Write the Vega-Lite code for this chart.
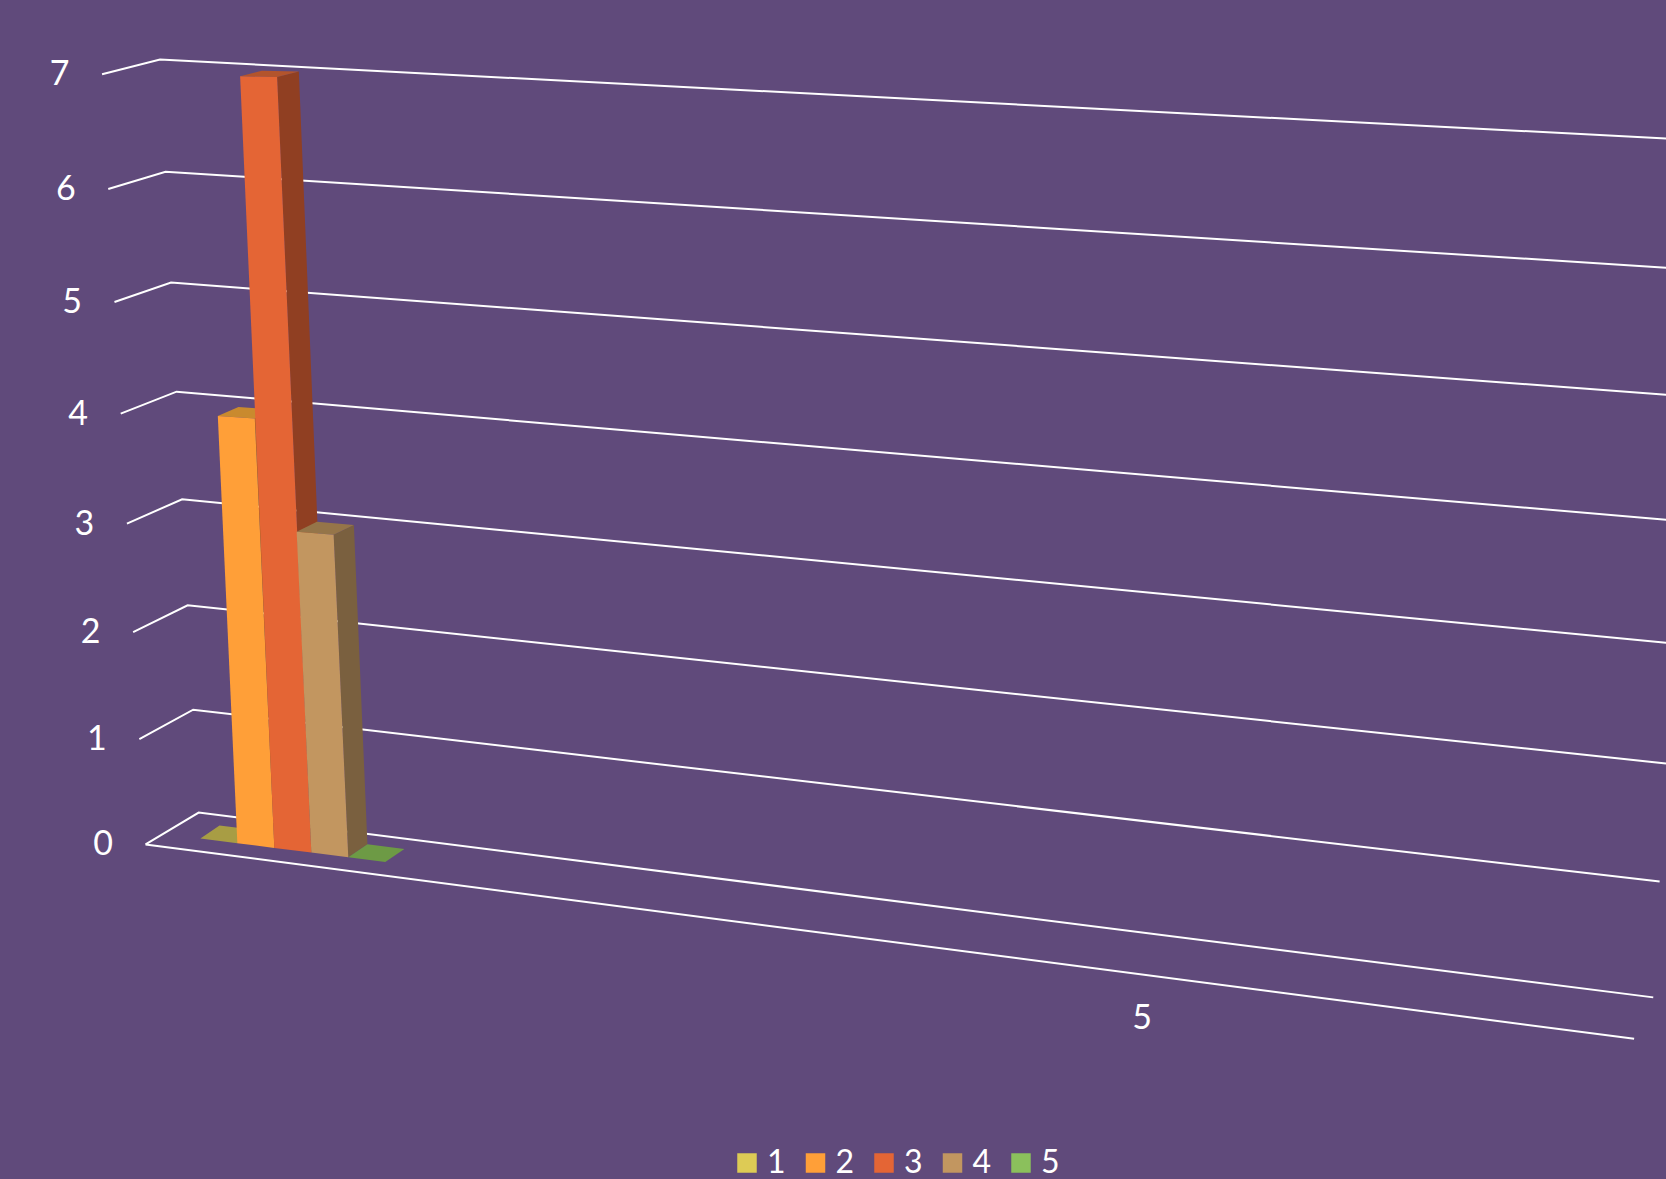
{"$schema":"https://vega.github.io/schema/vega-lite/v6.json","width":1666,"height":1179,"autosize":{"type":"fit","contains":"padding"},"padding":0,"background":"#604A7B","view":{"stroke":null},"config":{"view":{"stroke":null},"font":"Lato"},"datasets":{"levels":[{"level":0},{"level":1},{"level":2},{"level":3},{"level":4},{"level":5},{"level":6},{"level":7}],"bars":[{"series":"1","value":0},{"series":"2","value":4},{"series":"3","value":7},{"series":"4","value":3},{"series":"5","value":0}],"cats":[{"category":"5"}]},"layer":[{"data":{"name":"levels"},"transform":[{"calculate":"[0,1,2]","as":"vertex"},{"flatten":["vertex"]},{"calculate":"datum.vertex==0?137-5.85*datum.level:datum.vertex==1?187-5.2*datum.level:1556+6*datum.level","as":"sx"},{"calculate":"datum.vertex==0?795-98.5*datum.level-0.726*datum.level*datum.level:datum.vertex==1?765-96.1*datum.level-0.74*datum.level*datum.level:939-108*datum.level-1.04*datum.level*datum.level","as":"sy"}],"mark":{"type":"line","stroke":"#FFFFFF","strokeWidth":2,"clip":true},"encoding":{"x":{"field":"sx","type":"quantitative","scale":{"domain":[0,1568],"nice":false,"zero":false},"axis":null},"y":{"field":"sy","type":"quantitative","scale":{"domain":[0,1110],"nice":false,"zero":false,"reverse":true},"axis":null},"detail":{"field":"level"},"order":{"field":"vertex"}}},{"data":{"name":"levels"},"transform":[{"filter":"datum.level==0"},{"calculate":"[0,1]","as":"vertex"},{"flatten":["vertex"]},{"calculate":"datum.vertex==0?137:1538","as":"sx"},{"calculate":"datum.vertex==0?795:978","as":"sy"}],"mark":{"type":"line","stroke":"#FFFFFF","strokeWidth":2},"encoding":{"x":{"field":"sx","type":"quantitative","axis":null},"y":{"field":"sy","type":"quantitative","axis":null},"order":{"field":"vertex"}}},{"data":{"name":"bars"},"transform":[{"calculate":"toNumber(datum.series)-1","as":"p"},{"calculate":"['side','top','front']","as":"face"},{"flatten":["face"]},{"calculate":"[0,1,2,3]","as":"c"},{"flatten":["c"]},{"calculate":"datum.face=='side'?datum.p+1:datum.p+((datum.c==1||datum.c==2)?1:0)","as":"pp"},{"calculate":"datum.face=='front'?0:datum.face=='side'?((datum.c==1||datum.c==2)?1:0):(datum.c>=2?1:0)","as":"d"},{"calculate":"datum.face=='top'?datum.value:(datum.c>=2?datum.value:0)","as":"h"},{"calculate":"188.6+34.8*datum.pp+(18+0.35*datum.h)*datum.d-4.6*datum.h","as":"sx"},{"calculate":"789.5+4.4*datum.pp-(12.3-datum.h)*datum.d-(98*datum.h+0.9*datum.h*datum.h)*(1+0.005*(datum.pp-3))","as":"sy"},{"calculate":"datum.face=='front'?datum.series:datum.series+datum.face","as":"shade"}],"mark":{"type":"line","filled":true,"strokeWidth":0},"encoding":{"x":{"field":"sx","type":"quantitative","axis":null},"y":{"field":"sy","type":"quantitative","axis":null},"order":{"field":"c"},"fill":{"field":"shade","type":"nominal","scale":{"domain":["1","2","3","4","5","1top","2top","3top","4top","5top","1side","2side","3side","4side","5side"],"range":["#DDCB55","#FF9F38","#E46535","#C29660","#8BC05C","#A89D44","#C98A2E","#B3542C","#957549","#6D9A45","#8F8238","#A06420","#903F22","#7A603F","#5A7F3A"]},"legend":{"orient":"none","legendX":731,"legendY":1147,"direction":"horizontal","columns":5,"values":["1","2","3","4","5"],"title":null,"symbolType":"square","symbolSize":380,"symbolStrokeWidth":0,"labelFontSize":32,"labelColor":"#FFFFFF","labelFont":"Lato","labelOffset":4,"columnPadding":13.5,"symbolOpacity":1}}}},{"data":{"name":"levels"},"transform":[{"calculate":"97-5.85*datum.level","as":"sx"},{"calculate":"796-98.5*datum.level-0.726*datum.level*datum.level","as":"sy"}],"mark":{"type":"text","fontSize":34,"color":"#FFFFFF","align":"center","baseline":"middle","font":"Lato"},"encoding":{"x":{"field":"sx","type":"quantitative","axis":null},"y":{"field":"sy","type":"quantitative","axis":null},"text":{"field":"level","type":"quantitative"}}},{"data":{"name":"cats"},"transform":[{"calculate":"1075","as":"sx"},{"calculate":"959","as":"sy"}],"mark":{"type":"text","fontSize":34,"color":"#FFFFFF","align":"center","baseline":"middle","font":"Lato"},"encoding":{"x":{"field":"sx","type":"quantitative","axis":null},"y":{"field":"sy","type":"quantitative","axis":null},"text":{"field":"category","type":"nominal"}}}]}
